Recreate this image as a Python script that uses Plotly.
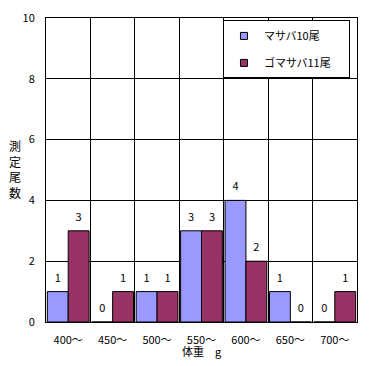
import plotly.graph_objects as go

categories = ["400〜", "450〜", "500〜", "550〜", "600〜", "650〜", "700〜"]
masaba = [1, 0, 1, 3, 4, 1, 0]
gomasaba = [3, 1, 1, 3, 2, 0, 1]
series_names = ["マサバ10尾", "ゴマサバ11尾"]
colors = ["#9999FF", "#993366"]
y_ticks = [0, 2, 4, 6, 8, 10]
y_title_chars = ["測", "定", "尾", "数"]

FONT = "Noto Sans CJK JP"

fig = go.Figure()
for name, vals, col in zip(series_names, [masaba, gomasaba], colors):
    fig.add_trace(go.Bar(
        x=categories, y=vals, name=name, offsetgroup=name,
        marker=dict(color=col, line=dict(color="black", width=1)),
        showlegend=False,
    ))
for name, vals, col in zip(series_names, [masaba, gomasaba], colors):
    # value labels, grouped like the bars
    fig.add_trace(go.Scatter(
        x=categories, y=vals, mode="markers+text", offsetgroup=name,
        text=[str(v) for v in vals], textposition="top center",
        marker=dict(size=10, opacity=0),
        textfont=dict(family=FONT, size=11, color="black"),
        cliponaxis=False, showlegend=False, hoverinfo="skip",
    ))
for name, col in zip(series_names, colors):
    # legend proxy with small square symbol
    fig.add_trace(go.Scatter(
        x=[None], y=[None], mode="markers", name=name + "\u3000\u2009",
        marker=dict(symbol="square", size=7, color=col, line=dict(color="black", width=1)),
        legendgroup=name,
    ))

# page body has an 8px margin: shrink the figure so it fits the 375x366 window
fig.update_layout(
    width=367, height=358,
    margin=dict(l=38, r=18, t=10, b=44),
    paper_bgcolor="white", plot_bgcolor="white",
    font=dict(family=FONT, size=11, color="black"),
    barmode="group", bargap=0.06, bargroupgap=0.0,
    scattermode="group", scattergap=0.06,
    legend=dict(
        x=0.569, y=0.992, xanchor="left", yanchor="top",
        bgcolor="white", bordercolor="black", borderwidth=1,
        font=dict(family=FONT, size=11, color="black"),
        tracegroupgap=8, itemwidth=30,
    ),
    xaxis=dict(
        type="category", tickson="boundaries", automargin=False,
        showgrid=True, gridcolor="black", gridwidth=1,
        showline=True, linecolor="black", linewidth=1, mirror=True,
        ticks="", ticklabelstandoff=8,
    ),
    yaxis=dict(
        range=[0, 10], tickvals=y_ticks, automargin=False,
        showgrid=True, gridcolor="black", gridwidth=1,
        showline=True, linecolor="black", linewidth=1, mirror=True,
        ticks="", ticklabelstandoff=8, zeroline=False,
    ),
    annotations=[
        dict(
            text="<br>".join(y_title_chars), xref="paper", yref="paper",
            x=-0.100, y=0.503, xanchor="center", yanchor="middle",
            showarrow=False, font=dict(family=FONT, size=12), align="center",
        ),
        dict(
            text="体重\u3000g", xref="paper", yref="paper",
            x=0.5, y=-0.094, xanchor="center", yanchor="middle",
            showarrow=False, font=dict(family=FONT, size=11),
        ),
    ],
)

fig.write_html("out.html")
